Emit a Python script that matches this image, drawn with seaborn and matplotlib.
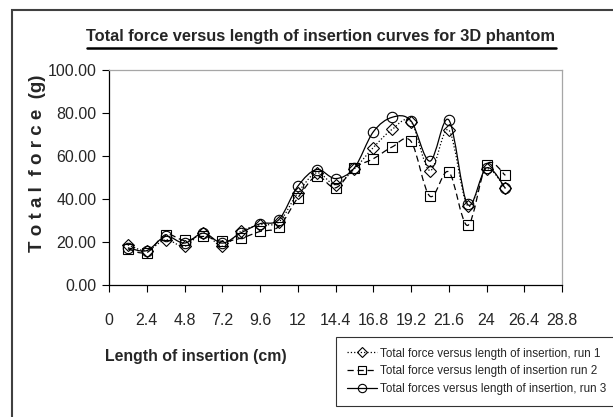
import numpy as np
import pandas as pd
import matplotlib
matplotlib.use("Agg")
import matplotlib.pyplot as plt
from matplotlib.path import Path
from matplotlib.patches import PathPatch, Rectangle
from matplotlib.lines import Line2D
import seaborn as sns

# data
length_cm = [1.2, 2.4, 3.6, 4.8, 6.0, 7.2, 8.4, 9.6, 10.8, 12.0, 13.2,
             14.4, 15.6, 16.8, 18.0, 19.2, 20.4, 21.6, 22.8, 24.0, 25.2]
run1 = [18.7, 16.0, 21.0, 18.0, 24.3, 18.0, 25.0, 28.0, 29.3, 42.8, 52.2,
        46.7, 54.0, 63.9, 72.4, 76.0, 53.2, 72.1, 36.9, 53.9, 44.9]
run2 = [16.8, 15.1, 23.4, 20.7, 22.6, 20.3, 21.8, 24.9, 27.2, 40.5, 50.6,
        45.2, 54.5, 58.7, 64.2, 66.8, 41.3, 52.6, 27.7, 56.0, 51.0]
run3 = [17.3, 16.0, 22.6, 19.5, 24.1, 19.5, 24.3, 28.5, 30.4, 45.9, 53.7,
        49.5, 54.5, 71.2, 78.0, 76.3, 57.6, 76.8, 37.5, 54.5, 45.0]
run_labels = ["Total force versus length of insertion, run 1",
              "Total force versus length of insertion run 2",
              "Total forces versus length of insertion, run 3"]
xticks = [0, 2.4, 4.8, 7.2, 9.6, 12, 14.4, 16.8, 19.2, 21.6, 24, 26.4, 28.8]
xtick_labels = ["0", "2.4", "4.8", "7.2", "9.6", "12", "14.4", "16.8",
                "19.2", "21.6", "24", "26.4", "28.8"]
yticks = [0, 20, 40, 60, 80, 100]

sns.set_style("white")
plt.rcParams["font.family"] = ["Liberation Sans", "DejaVu Sans"]

df = pd.DataFrame({"x": length_cm, "run1": run1, "run2": run2, "run3": run3})


def smooth_path(xs, ys):
    # excel-like smoothed line: cubic bezier segments through the points
    pts = np.column_stack([xs, ys])
    verts = [pts[0]]
    codes = [Path.MOVETO]
    n = len(pts)
    for i in range(n - 1):
        p0 = pts[i - 1] if i > 0 else pts[i]
        p1, p2 = pts[i], pts[i + 1]
        p3 = pts[i + 2] if i + 2 < n else pts[i + 1]
        verts += [p1 + (p2 - p0) / 6, p2 - (p3 - p1) / 6, p2]
        codes += [Path.CURVE4] * 3
    return Path(verts, codes)


fig = plt.figure(figsize=(6.13, 4.17), dpi=100)
ax = fig.add_axes([109 / 613, 1 - 285 / 417, 453 / 613, 215 / 417])

styles = [("run1", "D", ":", 6.5), ("run2", "s", (0, (5, 3)), 7), ("run3", "o", "-", 7.5)]
handles = []
for (col, mk, ls, ms), lab in zip(styles, run_labels):
    ax.add_patch(PathPatch(smooth_path(df["x"], df[col]), fill=False,
                           edgecolor="black", linewidth=0.9, linestyle=ls))
    sns.lineplot(data=df, x="x", y=col, ax=ax, linestyle="", marker=mk,
                 markersize=ms, markerfacecolor="none", markeredgecolor="black",
                 markeredgewidth=0.8, color="black", legend=False)
    handles.append(Line2D([], [], color="black", linestyle=ls, linewidth=0.9,
                          marker=mk, markersize=ms - 1.5, markerfacecolor="none",
                          markeredgewidth=0.8, label=lab))

ax.set_xlim(0, 28.8)
ax.set_ylim(0, 100)
ax.set_xticks(xticks)
ax.set_xticklabels(xtick_labels)
ax.set_yticks(yticks)
ax.set_yticklabels([f"{v:.2f}" for v in yticks])
ax.tick_params(axis="x", direction="out", length=5, width=0.8, pad=15,
               labelsize=11.5, bottom=True, color="black")
ax.tick_params(axis="y", direction="out", length=5, width=0.8, pad=4,
               labelsize=11.5, left=True, color="black")
ax.set_xlabel("")
ax.set_ylabel("")
for s in ["left", "bottom"]:
    ax.spines[s].set_color("black")
    ax.spines[s].set_linewidth(0.9)
for s in ["top", "right"]:
    ax.spines[s].set_color("#a6a6a6")
    ax.spines[s].set_linewidth(0.9)

title = fig.text(321 / 613, 1 - 37 / 417,
                 "Total force versus length of insertion curves for 3D phantom",
                 ha="center", va="center", fontsize=11.8, fontweight="bold")
fig.text(196 / 613, 1 - 356 / 417, "Length of insertion (cm)", ha="center",
         va="center", fontsize=11.4, fontweight="bold")
fig.text(38 / 613, 1 - 163 / 417, "T o t a l  f o r c e  (g)", rotation=90,
         ha="center", va="center", fontsize=13.5, fontweight="bold")

leg = fig.legend(handles=handles, loc="upper left",
                 bbox_to_anchor=(336 / 613, 1 - 337 / 417), borderaxespad=0,
                 frameon=True, fontsize=8.4, handlelength=2.6,
                 handletextpad=0.3, labelspacing=0.5, borderpad=0.9,
                 fancybox=False)
leg.get_frame().set_edgecolor("black")
leg.get_frame().set_linewidth(0.8)

# chart area border (clipped by the image edge on right and bottom)
fig.add_artist(Rectangle((12 / 613, -0.2), 1.2, 1.2 - 10 / 417, fill=False,
                         edgecolor="#404040", linewidth=1.5,
                         transform=fig.transFigure))

# underline for the title
fig.canvas.draw()
bb = title.get_window_extent().transformed(fig.transFigure.inverted())
fig.add_artist(Line2D([bb.x0, bb.x1], [bb.y0 - 0.008, bb.y0 - 0.008],
                      color="black", linewidth=1.8, transform=fig.transFigure))

fig.savefig("out.png", dpi=100)
